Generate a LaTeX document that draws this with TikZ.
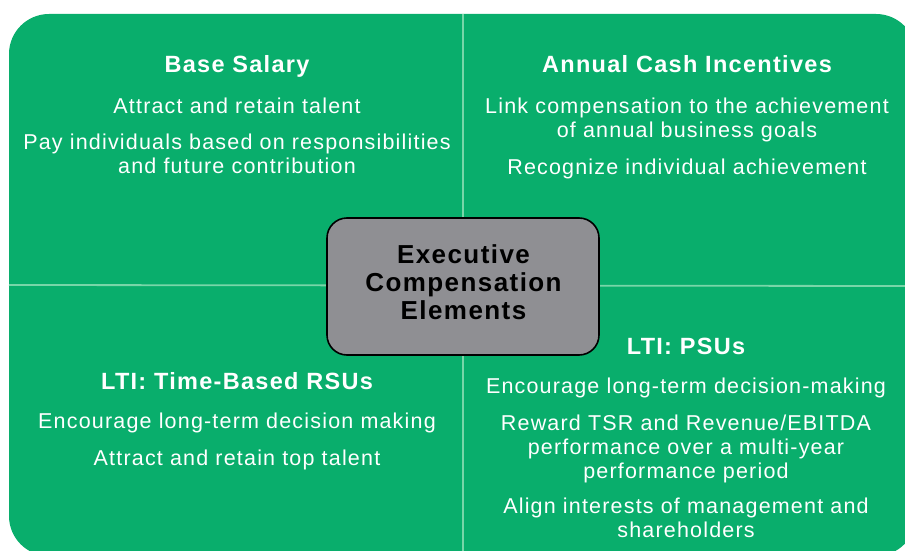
\documentclass[tikz,border=0pt]{standalone}
\usepackage{fontspec}
\setmainfont{Liberation Sans}[LetterSpace=5.5]
\definecolor{panelgreen}{RGB}{9,174,108}
\definecolor{divline}{RGB}{120,214,168}
\definecolor{boxgray}{RGB}{143,143,147}
\tikzset{
  bodytext/.style={text=white, align=center, anchor=base, inner sep=0pt,
    font=\fontsize{21.5}{24}\selectfont},
  headtext/.style={text=white, align=center, anchor=base, inner sep=0pt,
    font=\fontsize{23.5}{26}\selectfont\bfseries},
  centerbox/.style={draw=black, line width=1.6pt, fill=boxgray, rounded corners=20pt},
  centertext/.style={text=black, align=center, anchor=base, inner sep=0pt,
    font=\fontsize{26}{28}\selectfont\bfseries}
}
\begin{document}
\begin{tikzpicture}[x=1pt,y=-1pt]
\useasboundingbox (0,0) rectangle (905,551);
\begin{scope}
\clip (0,0) rectangle (905,551);
\fill[panelgreen, rounded corners=40pt] (9,14) rectangle (916,556);
\end{scope}
\coordinate (vtop) at (463,14);
\coordinate (vbot) at (463,551);
\coordinate (hleft) at (9,285);
\coordinate (hright) at (905,286);
\draw[divline, line width=1.8pt] (vtop) -- (vbot);
\draw[divline, line width=1.8pt] (hleft) -- (hright);
% center box
\node[centerbox, minimum width=272pt, minimum height=137pt] (core) at (463,286.5) {};
\node[centertext] (ctitle) at (463.5,319) {Executive\\Compensation\\Elements};
% top-left
\node[headtext] (bsh) at (237,73) {Base Salary};
\node[bodytext] (bs1) at (237,113) {Attract and retain talent};
\node[bodytext] (bs2) at (237,173) {Pay individuals based on responsibilities\\and future contribution};
% top-right
\node[headtext] (ach) at (687,73) {Annual Cash Incentives};
\node[bodytext] (ac1) at (687,137) {Link compensation to the achievement\\of annual business goals};
\node[bodytext] (ac2) at (687,174) {Recognize individual achievement};
% bottom-left
\node[headtext] (rsh) at (237,389) {LTI: Time-Based RSUs};
\node[bodytext] (rs1) at (237,428) {Encourage long-term decision making};
\node[bodytext] (rs2) at (237,465) {Attract and retain top talent};
% bottom-right
\node[headtext] (psh) at (686,354) {LTI: PSUs};
\node[bodytext] (ps1) at (686,393) {Encourage long-term decision-making};
\node[bodytext] (ps2) at (686,478) {Reward TSR and Revenue/EBITDA\\performance over a multi-year\\performance period};
\node[bodytext] (ps3) at (686,537) {Align interests of management and\\shareholders};
\end{tikzpicture}
\end{document}
